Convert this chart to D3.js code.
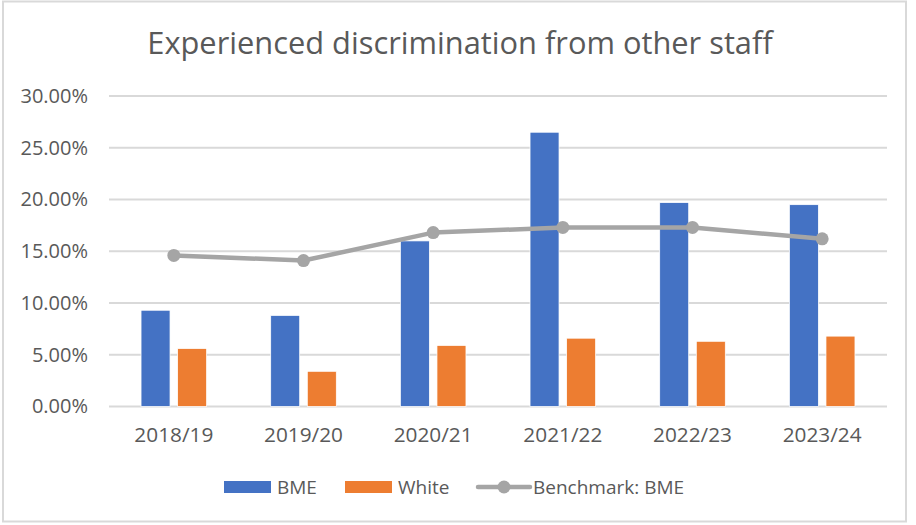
<!DOCTYPE html>
<html><head><meta charset="utf-8">
<script src="https://cdn.jsdelivr.net/npm/d3@7"></script>
<style>
html,body{margin:0;padding:0;background:#fff;}
svg{display:block;}
text{font-family:"Open Sans","Noto Sans",sans-serif;fill:#595959;}
</style></head>
<body>
<svg id="chart" width="916" height="525"></svg>
<script>
const categories = ["2018/19","2019/20","2020/21","2021/22","2022/23","2023/24"];
const bmeValues = [0.093, 0.088, 0.160, 0.265, 0.197, 0.195];
const whiteValues = [0.056, 0.034, 0.059, 0.066, 0.063, 0.068];
const benchmarkValues = [0.146, 0.141, 0.168, 0.173, 0.173, 0.162];
const seriesNames = ["BME","White","Benchmark: BME"];
const yTicks = [0, 0.05, 0.10, 0.15, 0.20, 0.25, 0.30];
const titleText = "Experienced discrimination from other staff";

const colors = {BME:"#4472c4", White:"#ed7d31", "Benchmark: BME":"#a5a5a5"};
const svg = d3.select("#chart");

// border
svg.append("rect").attr("x",3).attr("y",1.5).attr("width",903).attr("height",520)
  .attr("fill","#fff").attr("stroke","#d9d9d9").attr("stroke-width",2);

const plot = {left:109, right:887, top:96, bottom:406.5};

const x = d3.scaleBand().domain(categories).range([plot.left, plot.right]).padding(0);
const y = d3.scaleLinear().domain([0,0.30]).range([plot.bottom, plot.top]);
const bw = x.bandwidth();
const groupW = 65.6;
const x1 = d3.scaleBand().domain(["BME","White"])
  .range([bw/2 - groupW/2, bw/2 + groupW/2]).paddingInner(0.2077).paddingOuter(0);

// title
svg.append("text").attr("x",460).attr("y",54).attr("text-anchor","middle")
  .attr("font-size",30.8).text(titleText);

// gridlines
svg.append("g").selectAll("line").data(yTicks).join("line")
  .attr("x1",plot.left).attr("x2",plot.right)
  .attr("y1",d=>y(d)).attr("y2",d=>y(d))
  .attr("stroke","#d9d9d9").attr("stroke-width",2);

// y axis
const yAxis = d3.axisLeft(y).tickValues(yTicks).tickFormat(d3.format(".2%")).tickSize(0).tickPadding(0);
const gy = svg.append("g").attr("transform",`translate(${plot.left-21},0)`).call(yAxis);
gy.select(".domain").remove();
gy.selectAll("text").attr("font-size",20).attr("fill","#595959")
  .style("font-family",'"Open Sans","Noto Sans",sans-serif');

// x axis
const xAxis = d3.axisBottom(x).tickSize(0).tickPadding(0);
const gx = svg.append("g").attr("transform",`translate(0,${plot.bottom+21})`).call(xAxis);
gx.select(".domain").remove();
gx.selectAll("text").attr("font-size",20.8).attr("fill","#595959")
  .style("font-family",'"Open Sans","Noto Sans",sans-serif');

// bars
const barData = [];
categories.forEach((c,i)=>{
  barData.push({cat:c, s:"BME", v:bmeValues[i]});
  barData.push({cat:c, s:"White", v:whiteValues[i]});
});
svg.append("g").selectAll("rect").data(barData).join("rect")
  .attr("x",d=>x(d.cat)+x1(d.s))
  .attr("width",x1.bandwidth())
  .attr("y",d=>y(d.v))
  .attr("height",d=>y(0)-y(d.v))
  .attr("fill",d=>colors[d.s])
  .attr("stroke","#fff").attr("stroke-width",0.75);

// benchmark line
const lineData = categories.map((c,i)=>({cat:c, v:benchmarkValues[i]}));
const line = d3.line().x(d=>x(d.cat)+bw/2).y(d=>y(d.v));
svg.append("path").datum(lineData).attr("d",line)
  .attr("fill","none").attr("stroke",colors["Benchmark: BME"])
  .attr("stroke-width",4.5).attr("stroke-linejoin","round");
svg.append("g").selectAll("circle").data(lineData).join("circle")
  .attr("cx",d=>x(d.cat)+bw/2).attr("cy",d=>y(d.v)).attr("r",6.5)
  .attr("fill",colors["Benchmark: BME"]);

// legend
const ly = 487;
const leg = svg.append("g");
const legItems = [
  {name:"BME", type:"bar", x:224},
  {name:"White", type:"bar", x:345},
  {name:"Benchmark: BME", type:"line", x:478}
];
legItems.forEach(it=>{
  if(it.type==="bar"){
    leg.append("rect").attr("x",it.x).attr("y",ly-6).attr("width",47).attr("height",12)
      .attr("fill",colors[it.name]);
    leg.append("text").attr("x",it.x+53).attr("y",ly).attr("dy","0.35em")
      .attr("font-size",19).text(it.name);
  } else {
    leg.append("line").attr("x1",it.x).attr("x2",it.x+52).attr("y1",ly).attr("y2",ly)
      .attr("stroke",colors[it.name]).attr("stroke-width",4.5).attr("stroke-linecap","round");
    leg.append("circle").attr("cx",it.x+26).attr("cy",ly).attr("r",6.5).attr("fill",colors[it.name]);
    leg.append("text").attr("x",it.x+55).attr("y",ly).attr("dy","0.35em")
      .attr("font-size",19).text(it.name);
  }
});
</script>
</body></html>
